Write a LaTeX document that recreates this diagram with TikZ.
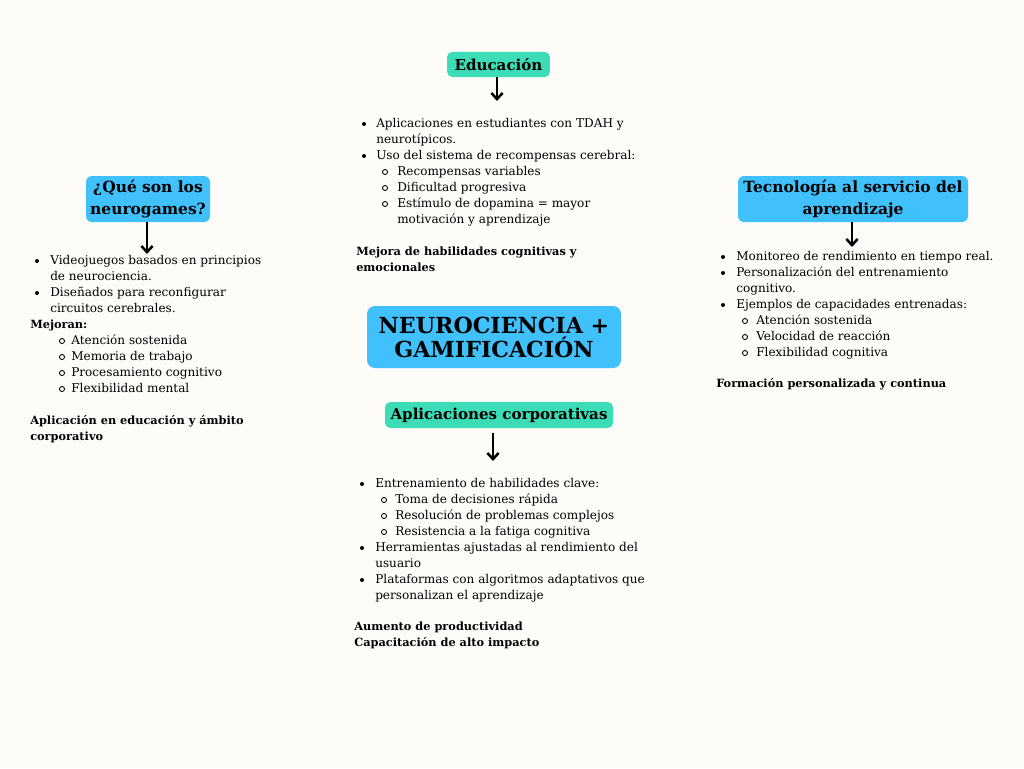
\documentclass[tikz,border=0pt]{standalone}
\usepackage{fontspec}
\setmainfont{DejaVu Serif}
\usetikzlibrary{arrows.meta}
\definecolor{bg}{HTML}{FDFCF8}
\definecolor{blu}{HTML}{40C1FB}
\definecolor{tea}{HTML}{3CDDB6}
\begin{document}
\begin{tikzpicture}[x=0.75pt,y=-0.75pt,
  txt/.style={anchor=mid west, inner sep=0pt, font=\fontsize{9.05}{12}\selectfont},
  bld/.style={txt, font=\fontsize{8.5}{12}\selectfont\bfseries},
  bluebox/.style={fill=blu, rounded corners=4.5pt, inner sep=0pt, align=center, font=\fontsize{11.6}{16.5}\selectfont\bfseries},
  teabox/.style={fill=tea, rounded corners=4pt, inner sep=0pt, align=center, font=\fontsize{11.3}{15}\selectfont\bfseries},
  mainbox/.style={fill=blu, rounded corners=6pt, inner sep=0pt, align=center, font=\fontsize{16.6}{18}\selectfont\bfseries},
  arr/.style={line width=2.2pt, -{Straight Barb[length=4.6pt,width=8.4pt,line width=1.9pt]}},
  dotb/.style={fill=black},
  ringb/.style={draw=black, line width=0.65pt}
]
\fill[bg] (0,0) rectangle (1024,768);
\useasboundingbox (0,0) rectangle (1024,768);

% ---------- Boxes ----------
\node[teabox, minimum width=77pt, minimum height=19pt] (edu) at (498.5,64.5) {Educación};
\node[bluebox, minimum width=93pt, minimum height=34.5pt] (que) at (148,199) {¿Qué son los\\neurogames?};
\node[bluebox, minimum width=172.5pt, minimum height=34.5pt] (tec) at (853,199) {Tecnología al servicio del\\aprendizaje};
\node[mainbox, minimum width=190.5pt, minimum height=46.5pt] (main) at (494,337) {NEUROCIENCIA +\\GAMIFICACIÓN};
\node[teabox, minimum width=171pt, minimum height=19.5pt] (corp) at (499,415) {Aplicaciones corporativas};

% ---------- Arrows ----------
\coordinate (eduE) at (497,101);
\coordinate (queE) at (147,254);
\coordinate (tecE) at (852,247);
\coordinate (corpE) at (493,461);
\draw[arr] (edu.south -| eduE) -- (eduE);
\draw[arr] (que.south -| queE) -- (queE);
\draw[arr] (tec.south -| tecE) -- (tecE);
\draw[arr] (corp.south -| corpE) ++(0,5) -- (corpE);

% ---------- Educación list ----------
\fill[dotb] (364,124) circle (1.5pt);
\node[txt] (e1) at (376,124) {Aplicaciones en estudiantes con TDAH y};
\node[txt] (e2) at (376,140) {neurotípicos.};
\fill[dotb] (364,156) circle (1.5pt);
\node[txt] (e3) at (376,156) {Uso del sistema de recompensas cerebral:};
\draw[ringb] (385,172) circle (1.9pt);
\node[txt] (e4) at (397,172) {Recompensas variables};
\draw[ringb] (385,188) circle (1.9pt);
\node[txt] (e5) at (397,188) {Dificultad progresiva};
\draw[ringb] (385,204) circle (1.9pt);
\node[txt] (e6) at (397,204) {Estímulo de dopamina = mayor};
\node[txt] (e7) at (397,220) {motivación y aprendizaje};
\node[bld] (e8) at (356,252) {Mejora de habilidades cognitivas y};
\node[bld] (e9) at (356,268) {emocionales};

% ---------- Neurogames list ----------
\fill[dotb] (37,261) circle (1.5pt);
\node[txt] (q1) at (50,261) {Videojuegos basados en principios};
\node[txt] (q2) at (50,277) {de neurociencia.};
\fill[dotb] (37,293) circle (1.5pt);
\node[txt] (q3) at (50,293) {Diseñados para reconfigurar};
\node[txt] (q4) at (50,309) {circuitos cerebrales.};
\node[bld] (q5) at (30,325) {Mejoran:};
\draw[ringb] (62,341) circle (1.9pt);
\node[txt] (q6) at (71,341) {Atención sostenida};
\draw[ringb] (62,357) circle (1.9pt);
\node[txt] (q7) at (71,357) {Memoria de trabajo};
\draw[ringb] (62,373) circle (1.9pt);
\node[txt] (q8) at (71,373) {Procesamiento cognitivo};
\draw[ringb] (62,389) circle (1.9pt);
\node[txt] (q9) at (71,389) {Flexibilidad mental};
\node[bld] (q10) at (30,421) {Aplicación en educación y ámbito};
\node[bld] (q11) at (30,437) {corporativo};

% ---------- Tecnología list ----------
\fill[dotb] (723,257) circle (1.5pt);
\node[txt] (t1) at (736,257) {Monitoreo de rendimiento en tiempo real.};
\fill[dotb] (723,273) circle (1.5pt);
\node[txt] (t2) at (736,273) {Personalización del entrenamiento};
\node[txt] (t3) at (736,289) {cognitivo.};
\fill[dotb] (723,305) circle (1.5pt);
\node[txt] (t4) at (736,305) {Ejemplos de capacidades entrenadas:};
\draw[ringb] (745,321) circle (1.9pt);
\node[txt] (t5) at (756,321) {Atención sostenida};
\draw[ringb] (745,337) circle (1.9pt);
\node[txt] (t6) at (756,337) {Velocidad de reacción};
\draw[ringb] (745,353) circle (1.9pt);
\node[txt] (t7) at (756,353) {Flexibilidad cognitiva};
\node[bld] (t8) at (716,384) {Formación personalizada y continua};

% ---------- Corporativas list ----------
\fill[dotb] (362,484) circle (1.5pt);
\node[txt] (c1) at (375,484) {Entrenamiento de habilidades clave:};
\draw[ringb] (384,500) circle (1.9pt);
\node[txt] (c2) at (395,500) {Toma de decisiones rápida};
\draw[ringb] (384,516) circle (1.9pt);
\node[txt] (c3) at (395,516) {Resolución de problemas complejos};
\draw[ringb] (384,532) circle (1.9pt);
\node[txt] (c4) at (395,532) {Resistencia a la fatiga cognitiva};
\fill[dotb] (362,548) circle (1.5pt);
\node[txt] (c5) at (375,548) {Herramientas ajustadas al rendimiento del};
\node[txt] (c6) at (375,564) {usuario};
\fill[dotb] (362,580) circle (1.5pt);
\node[txt] (c7) at (375,580) {Plataformas con algoritmos adaptativos que};
\node[txt] (c8) at (375,596) {personalizan el aprendizaje};
\node[bld] (c9) at (354,627) {Aumento de productividad};
\node[bld] (c10) at (354,643) {Capacitación de alto impacto};
\end{tikzpicture}
\end{document}
